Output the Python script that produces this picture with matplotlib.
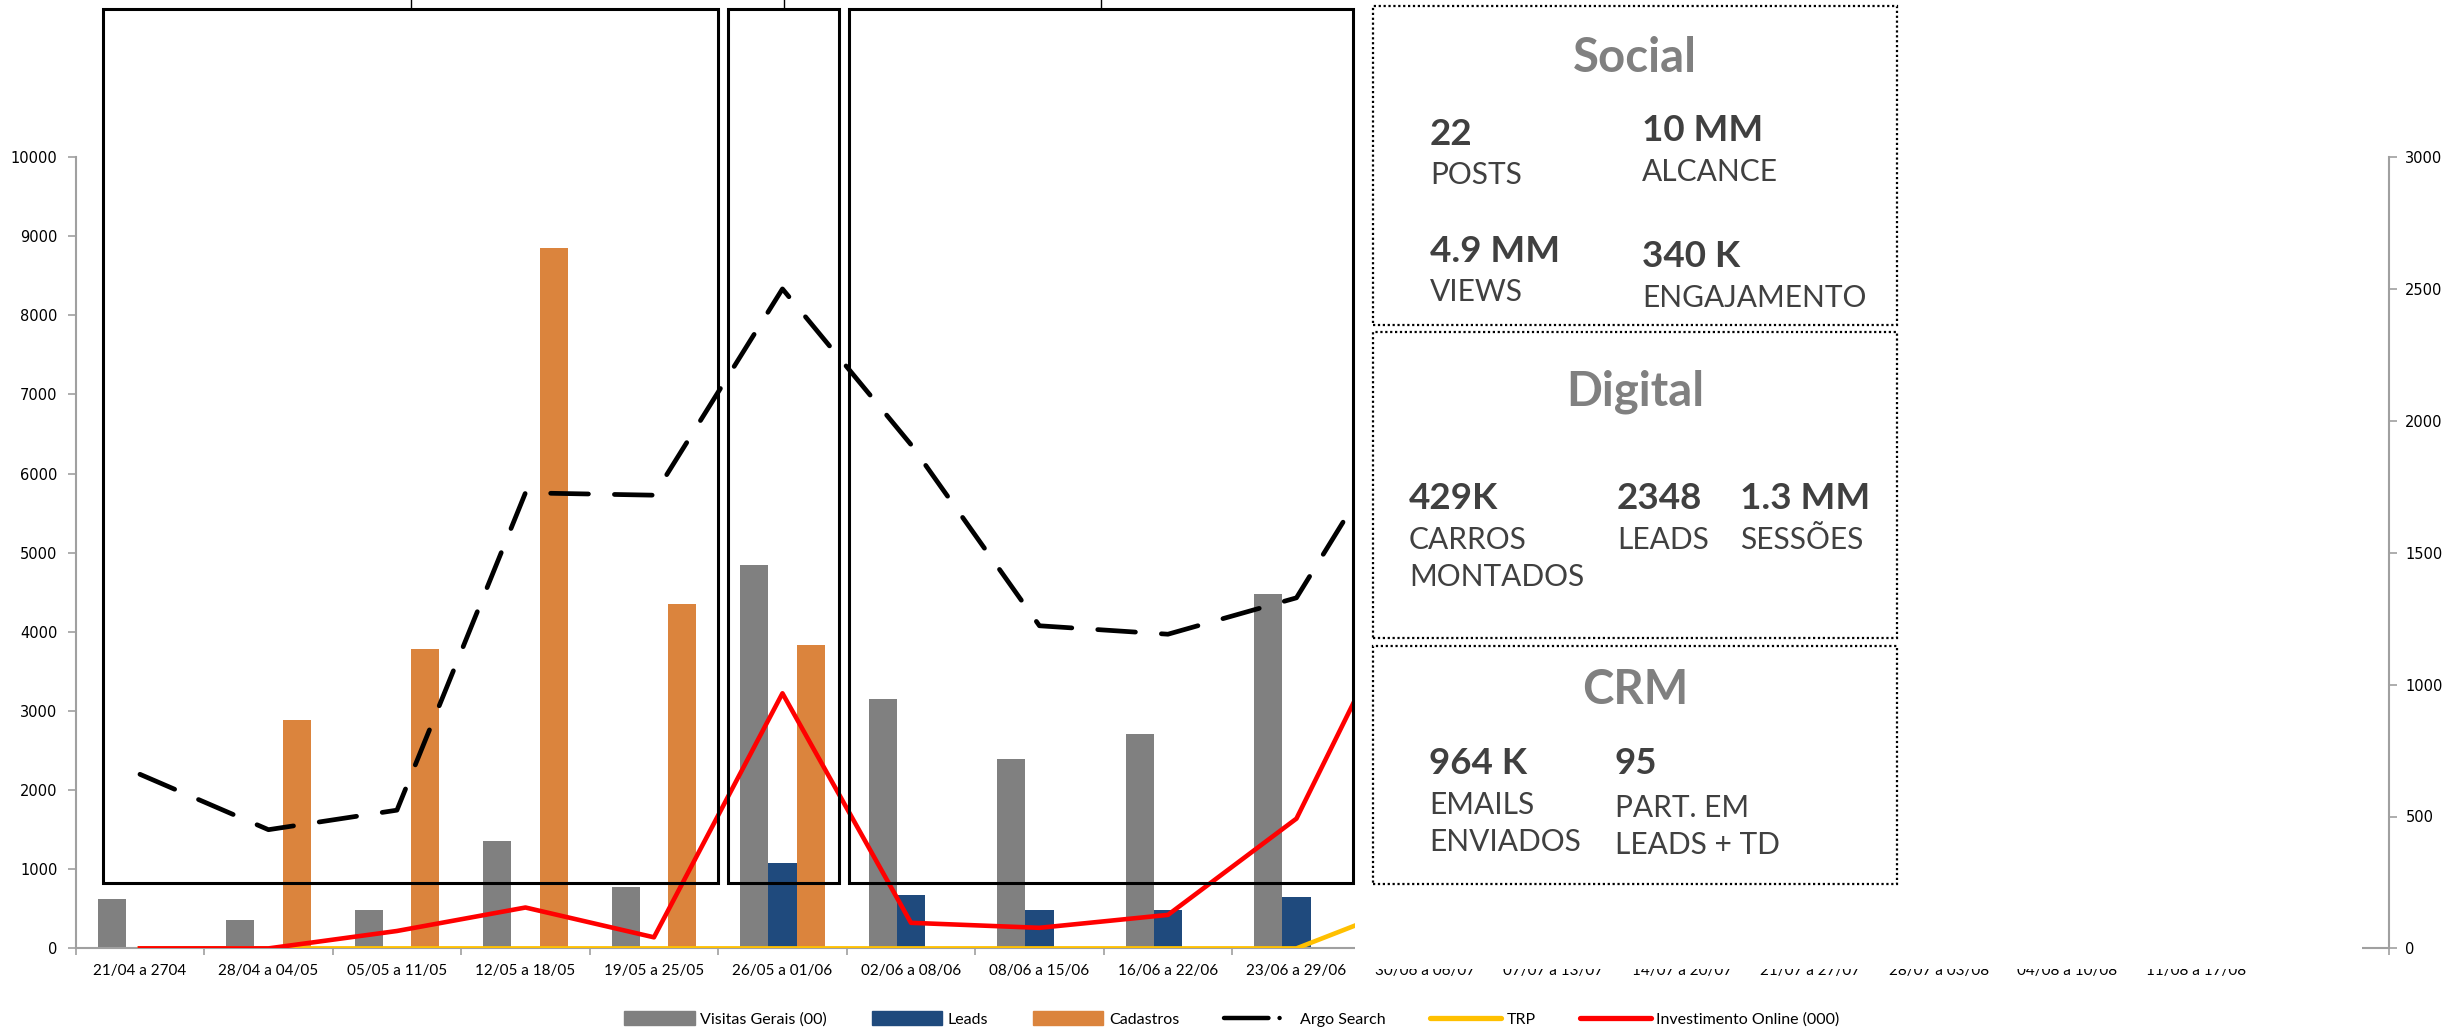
import numpy as np
import matplotlib.pyplot as plt
from matplotlib.patches import Rectangle, Patch
from matplotlib.lines import Line2D

plt.rcParams['font.family'] = ['Lato', 'DejaVu Sans']

W, H = 2458, 1031
nan = np.nan

# --- weekly data (weeks after 23/06 sit behind the white panel, so they are left empty)
categories = ['21/04 a 2704', '28/04 a 04/05', '05/05 a 11/05', '12/05 a 18/05',
              '19/05 a 25/05', '26/05 a 01/06', '02/06 a 08/06', '08/06 a 15/06',
              '16/06 a 22/06', '23/06 a 29/06', '30/06 a 06/07', '07/07 a 13/07',
              '14/07 a 20/07', '21/07 a 27/07', '28/07 a 03/08', '04/08 a 10/08',
              '11/08 a 17/08', '']
visitas = [620, 360, 490, 1360, 780, 4850, 3150, 2390, 2710, 4480] + [nan] * 8
leads = [0, 0, 0, 0, 0, 1080, 670, 480, 480, 655] + [nan] * 8
cadastros = [0, 2880, 3780, 8850, 4350, 3840, 0, 0, 0, 0] + [nan] * 8
# secondary axis
argo = [660, 450, 524, 1727, 1718, 2500, 1910, 1223, 1191, 1329, 2120] + [nan] * 7
trp = [0, 0, 0, 0, 0, 0, 0, 0, 0, 0, 190] + [nan] * 7
invest = [0, 0, 66, 155, 42, 967, 97, 78, 127, 492, 1480] + [nan] * 7

# --- summary panels
panels = {
    'Social': [('22', 'POSTS'), ('10 MM', 'ALCANCE'), ('4.9 MM', 'VIEWS'), ('340 K', 'ENGAJAMENTO')],
    'Digital': [('429K', 'CARROS\nMONTADOS'), ('2348', 'LEADS'), ('1.3 MM', 'SESSÕES')],
    'CRM': [('964 K', 'EMAILS\nENVIADOS'), ('95', 'PART. EM\nLEADS + TD')],
}


def fx(px):
    return px / W


def fy(py):
    return 1 - py / H


fig = plt.figure(figsize=(W / 100, H / 100), dpi=100)
axis_col = '#A0A0A0'

ax = fig.add_axes([fx(75.7), fy(948.4), (2388.7 - 75.7) / W, (948.4 - 157) / H])
x = np.arange(len(categories))
bw = 0.219
ax.bar(x - bw, visitas, bw, color='#808080', label='Visitas Gerais (00)', zorder=2)
ax.bar(x, leads, bw, color='#1F4A7D', label='Leads', zorder=2)
ax.bar(x + bw, cadastros, bw, color='#DB843D', label='Cadastros', zorder=2)

ax.set_xlim(-0.5, len(categories) - 0.5)
ax.set_ylim(0, 10000)
ax.set_yticks(np.arange(0, 10001, 1000))
ax.set_xticks(x)
ax.set_xticklabels(categories, fontsize=11)
ax.set_xticks(np.arange(-0.5, len(categories), 1), minor=True)
ax.tick_params(axis='x', which='major', length=0, pad=11)
ax.tick_params(axis='x', which='minor', length=5, color=axis_col, width=1.2)
ax.tick_params(axis='y', length=6, color=axis_col, width=1.2, pad=7,
               labelsize=10.5, labelfontfamily='DejaVu Sans')
for s in ['top', 'right']:
    ax.spines[s].set_visible(False)
for s in ['left', 'bottom']:
    ax.spines[s].set_color(axis_col)
    ax.spines[s].set_linewidth(1.5)

ax2 = ax.twinx()
ax2.plot(x, argo, color='black', lw=3.4, dashes=(8, 5.5),
         dash_capstyle='round', label='Argo Search')
ax2.plot(x, trp, color='#FFC000', lw=3.3, label='TRP')
ax2.plot(x, invest, color='#FF0000', lw=3.3, label='Investimento Online (000)')
ax2.set_ylim(0, 3000)
ax2.set_yticks(np.arange(0, 3001, 500))
ax2.tick_params(axis='y', length=6, color=axis_col, width=1.2, pad=6,
                labelsize=10.5, labelfontfamily='DejaVu Sans')
for s in ['top', 'left', 'bottom']:
    ax2.spines[s].set_visible(False)
ax2.spines['right'].set_color(axis_col)
ax2.spines['right'].set_linewidth(1.5)

# --- legend
handles = [Patch(color='#808080'), Patch(color='#1F4A7D'), Patch(color='#DB843D'),
           Line2D([], [], color='black', lw=3.2, dashes=(10, 2.5, 0.01, 100), dash_capstyle='round'),
           Line2D([], [], color='#FFC000', lw=3.8, solid_capstyle='round'),
           Line2D([], [], color='#FF0000', lw=3.8, solid_capstyle='round')]
labels = ['Visitas Gerais (00)', 'Leads', 'Cadastros', 'Argo Search', 'TRP',
          'Investimento Online (000)']
fig.legend(handles, labels, loc='center', bbox_to_anchor=(fx(1232), fy(1019)), ncol=6,
           frameon=False, fontsize=11.5, handlelength=4.4, handleheight=0.9,
           handletextpad=0.36, columnspacing=2.8)

# --- white panel on the right
fig.add_artist(Rectangle((fx(1355), fy(969)), (2362 - 1355) / W, 969 / H,
                         transform=fig.transFigure, fc='white', ec='none', zorder=4))

# --- black period boxes with a connector at the top
for left, right in [(103.3, 717.9), (727.7, 839.3), (848.7, 1353)]:
    fig.add_artist(Rectangle((fx(left), fy(882.8)), (right - left) / W, (882.8 - 9) / H,
                             transform=fig.transFigure, fill=False, ec='black', lw=2.2, zorder=5))
    cx = (left + right) / 2
    fig.add_artist(Line2D([fx(cx), fx(cx)], [fy(0), fy(9)], transform=fig.transFigure,
                          color='black', lw=1, zorder=5))

# --- dotted summary boxes
for top, bottom in [(6, 325), (332, 638), (646, 884)]:
    fig.add_artist(Rectangle((fx(1373.4), fy(bottom)), (1897 - 1373.4) / W, (bottom - top) / H,
                             transform=fig.transFigure, fill=False, ec='black', lw=1.6,
                             ls=(0, (1, 1.2)), zorder=6))

title_style = dict(ha='center', va='baseline', fontsize=34, weight='bold', color='#808080', zorder=7)
num_style = dict(ha='left', va='baseline', fontsize=26.5, weight='bold', color='#404040', zorder=7)
lab_style = dict(ha='left', va='top', fontsize=21.5, color='#404040', zorder=7, linespacing=1.38)

title_pos = {'Social': 72, 'Digital': 406, 'CRM': 704}
# (x, number baseline, label top) for each item
item_pos = {
    'Social': [(1430, 145, 161), (1642, 141, 158), (1430, 262, 278), (1642, 267, 284)],
    'Digital': [(1409, 509, 526), (1617, 509, 526), (1740, 509, 526)],
    'CRM': [(1429, 774, 791), (1615, 774, 794)],
}
for name, items in panels.items():
    fig.text(fx(1635), fy(title_pos[name]), name, **title_style)
    for (num, lab), (px, nb, lt) in zip(items, item_pos[name]):
        fig.text(fx(px), fy(nb), num, **num_style)
        fig.text(fx(px), fy(lt), lab, **lab_style)

fig.savefig('out.png', dpi=100)
